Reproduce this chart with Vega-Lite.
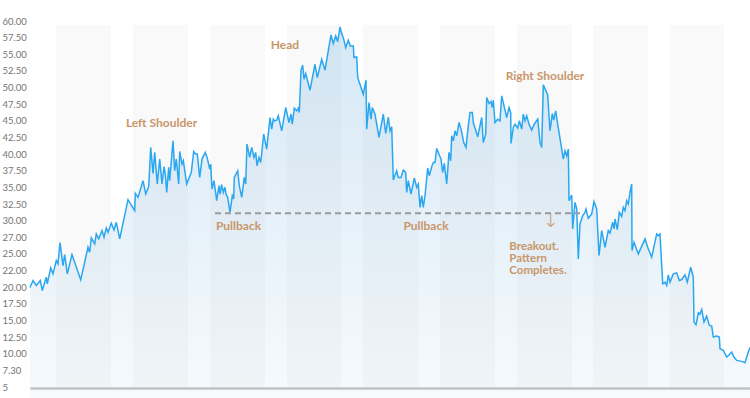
{
  "$schema": "https://vega.github.io/schema/vega-lite/v6.json",
  "width": 720,
  "height": 366,
  "autosize": "none",
  "padding": {"left": 30, "top": 21, "right": 0, "bottom": 11},
  "background": "white",
  "config": {"view": {"stroke": null}, "axisY": {"labelOverlap": false}},
  "datasets": {
    "bands": [
      {"start": 26, "end": 81, "top": 59.4, "bottom": 5}, {"start": 103, "end": 158, "top": 59.4, "bottom": 5},
      {"start": 180, "end": 235, "top": 59.4, "bottom": 5}, {"start": 257, "end": 311, "top": 59.4, "bottom": 5},
      {"start": 333, "end": 388, "top": 59.4, "bottom": 5}, {"start": 410, "end": 465, "top": 59.4, "bottom": 5},
      {"start": 487, "end": 542, "top": 59.4, "bottom": 5}, {"start": 563, "end": 618, "top": 59.4, "bottom": 5},
      {"start": 640, "end": 694, "top": 59.4, "bottom": 5}
    ],
    "price": [
      {"d":0,"v":19.95},{"d":3,"v":21.0},{"d":6.3,"v":20.25},{"d":10.3,"v":21.0},{"d":12.3,"v":19.5},
      {"d":16.3,"v":21.5},{"d":17.3,"v":20.5},{"d":20.7,"v":22.9},{"d":23,"v":22.0},{"d":26.3,"v":24.0},
      {"d":28,"v":23.5},{"d":30,"v":26.7},{"d":33,"v":23.25},{"d":34.7,"v":24.9},{"d":37.3,"v":22.0},
      {"d":42,"v":24.9},{"d":50.7,"v":21.1},{"d":58,"v":26.0},{"d":59.7,"v":25.25},{"d":61.3,"v":27.4},
      {"d":64.7,"v":26.5},{"d":66.3,"v":28.0},{"d":68.7,"v":27.25},{"d":72,"v":28.5},{"d":74,"v":27.5},
      {"d":76.3,"v":28.9},{"d":78,"v":28.25},{"d":81.3,"v":29.6},{"d":84,"v":28.6},{"d":86.3,"v":29.75},
      {"d":89.7,"v":27.25},{"d":98,"v":33.15},{"d":104.7,"v":31.5},{"d":105.3,"v":34.1},{"d":108,"v":33.5},
      {"d":113,"v":36.0},{"d":115.7,"v":34.0},{"d":118.7,"v":35.1},{"d":120.7,"v":41.0},{"d":123,"v":37.1},
      {"d":124.7,"v":40.25},{"d":127.3,"v":35.5},{"d":129.7,"v":39.25},{"d":132,"v":35.5},{"d":134,"v":38.1},
      {"d":135.3,"v":37.0},{"d":136.7,"v":34.25},{"d":138.7,"v":38.0},{"d":139.7,"v":36.0},{"d":143,"v":42.0},
      {"d":144.7,"v":37.5},{"d":146.3,"v":39.25},{"d":148.7,"v":35.5},{"d":149.7,"v":40.4},{"d":152,"v":38.5},
      {"d":153.3,"v":39.0},{"d":156.7,"v":35.5},{"d":161.3,"v":37.25},{"d":163.7,"v":40.4},{"d":165.7,"v":40.0},
      {"d":167.3,"v":40.0},{"d":169.7,"v":36.5},{"d":172,"v":39.25},{"d":175.3,"v":40.25},{"d":177.3,"v":39.4},
      {"d":179.7,"v":37.75},{"d":180.7,"v":38.5},{"d":182,"v":34.75},{"d":184,"v":36.0},{"d":186.7,"v":33.0},
      {"d":189,"v":35.25},{"d":190,"v":34.0},{"d":191.7,"v":35.4},{"d":193.3,"v":34.25},{"d":195,"v":35.0},
      {"d":196,"v":34.0},{"d":197.7,"v":33.5},{"d":200,"v":31.25},{"d":202.3,"v":33.75},{"d":203.7,"v":33.25},
      {"d":204.3,"v":36.5},{"d":207.7,"v":37.5},{"d":209.3,"v":35.25},{"d":211.7,"v":33.5},{"d":214.3,"v":36.5},
      {"d":215.7,"v":35.5},{"d":217,"v":41.5},{"d":219.7,"v":39.5},{"d":221.7,"v":41.0},{"d":224,"v":39.5},
      {"d":225.7,"v":40.25},{"d":227,"v":38.25},{"d":229,"v":39.5},{"d":230.7,"v":38.75},{"d":233.7,"v":43.0},
      {"d":236.7,"v":40.75},{"d":240,"v":45.5},{"d":241.7,"v":43.75},{"d":243.3,"v":45.25},{"d":244.3,"v":45.0},
      {"d":246.7,"v":45.1},{"d":248.3,"v":45.75},{"d":251.7,"v":43.5},{"d":255.7,"v":47.0},{"d":259,"v":44.75},
      {"d":261,"v":46.0},{"d":262.3,"v":44.5},{"d":264.3,"v":46.9},{"d":266.7,"v":46.5},{"d":268.3,"v":46.9},
      {"d":269.3,"v":46.25},{"d":271,"v":52.6},{"d":272.7,"v":53.35},{"d":274,"v":51.25},{"d":275.7,"v":52.1},
      {"d":280,"v":49.6},{"d":285,"v":53.5},{"d":287.3,"v":51.5},{"d":291.7,"v":54.25},{"d":295,"v":52.6},
      {"d":301,"v":57.9},{"d":303.3,"v":56.6},{"d":305.7,"v":57.75},{"d":307.7,"v":56.9},{"d":310,"v":59.1},
      {"d":311.7,"v":58.1},{"d":313.3,"v":57.5},{"d":315.7,"v":56.0},{"d":318.3,"v":57.1},{"d":320.3,"v":56.25},
      {"d":323.3,"v":56.25},{"d":324,"v":54.5},{"d":326.7,"v":54.6},{"d":327.7,"v":51.5},{"d":333.3,"v":49.0},
      {"d":336,"v":51.1},{"d":336.7,"v":43.75},{"d":339,"v":47.75},{"d":341,"v":45.25},{"d":342.3,"v":47.0},
      {"d":345,"v":46.0},{"d":349,"v":42.5},{"d":353.3,"v":46.0},{"d":355.7,"v":43.1},{"d":358.3,"v":45.55},
      {"d":360,"v":43.5},{"d":361.7,"v":44.1},{"d":363.3,"v":36.1},{"d":366.7,"v":37.5},{"d":368.3,"v":36.5},
      {"d":371,"v":36.5},{"d":373.3,"v":37.6},{"d":375.7,"v":37.25},{"d":376.7,"v":34.25},{"d":378.3,"v":36.0},
      {"d":381,"v":34.0},{"d":384.3,"v":36.4},{"d":386.7,"v":35.0},{"d":388.3,"v":35.5},{"d":390,"v":32.0},
      {"d":391.7,"v":33.75},{"d":393.3,"v":32.0},{"d":395,"v":33.75},{"d":397.7,"v":37.9},{"d":399.3,"v":36.75},
      {"d":401.7,"v":38.1},{"d":403.3,"v":38.75},{"d":405,"v":38.75},{"d":406.7,"v":40.85},{"d":411,"v":39.25},
      {"d":412.7,"v":37.25},{"d":414.3,"v":38.6},{"d":416.7,"v":35.5},{"d":419,"v":40.25},{"d":420.7,"v":39.0},
      {"d":421.7,"v":42.75},{"d":423.3,"v":42.0},{"d":425,"v":43.5},{"d":426.7,"v":42.75},{"d":429,"v":44.75},
      {"d":431,"v":43.75},{"d":433.7,"v":41.75},{"d":436,"v":41.0},{"d":438.3,"v":44.25},{"d":440,"v":46.25},
      {"d":442.3,"v":46.25},{"d":443.3,"v":44.75},{"d":447.7,"v":42.6},{"d":451.7,"v":45.5},{"d":453.3,"v":41.75},
      {"d":455.7,"v":43.0},{"d":456.7,"v":48.5},{"d":459,"v":47.6},{"d":461,"v":47.9},{"d":462.3,"v":47.0},
      {"d":463.3,"v":48.1},{"d":465,"v":44.75},{"d":467.7,"v":45.25},{"d":470,"v":45.0},{"d":471.7,"v":48.75},
      {"d":475,"v":46.6},{"d":476.7,"v":45.5},{"d":479,"v":47.0},{"d":480.7,"v":46.25},{"d":481,"v":41.6},
      {"d":483.3,"v":44.0},{"d":485,"v":44.5},{"d":487.7,"v":43.9},{"d":489.3,"v":45.0},{"d":491.7,"v":43.75},
      {"d":493.3,"v":46.0},{"d":495,"v":45.0},{"d":496.7,"v":45.75},{"d":499,"v":44.5},{"d":501.7,"v":43.6},
      {"d":504.3,"v":44.5},{"d":507.7,"v":45.25},{"d":510,"v":41.75},{"d":511.7,"v":41.0},{"d":513.3,"v":50.4},
      {"d":517.7,"v":48.9},{"d":520,"v":43.5},{"d":522.3,"v":46.1},{"d":523.7,"v":45.1},{"d":525.7,"v":46.5},
      {"d":527.7,"v":44.5},{"d":533.3,"v":39.25},{"d":535,"v":40.5},{"d":536.7,"v":39.75},{"d":538.3,"v":40.75},
      {"d":539,"v":33.0},{"d":541.7,"v":33.85},{"d":542.7,"v":28.75},{"d":545,"v":32.75},{"d":546.7,"v":31.85},
      {"d":548.3,"v":24.25},{"d":550,"v":29.5},{"d":552.7,"v":30.75},{"d":555,"v":31.25},{"d":556,"v":31.75},
      {"d":558.3,"v":30.35},{"d":561.7,"v":31.0},{"d":564,"v":32.85},{"d":566.7,"v":31.75},{"d":569,"v":24.75},
      {"d":571.7,"v":28.5},{"d":575,"v":26.0},{"d":578.3,"v":28.5},{"d":580,"v":28.15},{"d":582.7,"v":29.75},
      {"d":584,"v":28.75},{"d":585,"v":30.25},{"d":587.3,"v":28.65},{"d":589.3,"v":31.25},{"d":591.7,"v":30.65},
      {"d":593.3,"v":32.0},{"d":595,"v":31.5},{"d":596.7,"v":33.0},{"d":598.3,"v":32.5},{"d":600,"v":34.25},
      {"d":601.7,"v":35.5},{"d":602,"v":25.5},{"d":604,"v":26.75},{"d":608.3,"v":25.0},{"d":615,"v":27.25},
      {"d":618.3,"v":25.75},{"d":621.7,"v":24.5},{"d":626.7,"v":28.0},{"d":628.3,"v":27.75},{"d":630,"v":28.0},
      {"d":632.7,"v":20.5},{"d":635,"v":20.75},{"d":636.7,"v":20.25},{"d":638.3,"v":21.85},{"d":640,"v":20.75},
      {"d":643.3,"v":22.0},{"d":646.7,"v":22.15},{"d":649.3,"v":21.0},{"d":651.7,"v":21.15},{"d":655,"v":21.85},
      {"d":657.3,"v":20.75},{"d":660.7,"v":23.0},{"d":663.3,"v":21.5},{"d":664,"v":14.75},{"d":666,"v":14.35},
      {"d":668.3,"v":16.15},{"d":670,"v":16.0},{"d":671.7,"v":16.65},{"d":674,"v":14.75},{"d":676.7,"v":15.65},
      {"d":679.3,"v":14.25},{"d":681.7,"v":14.15},{"d":683.3,"v":12.5},{"d":686.7,"v":12.65},{"d":689.3,"v":12.5},
      {"d":690,"v":10.75},{"d":693.3,"v":10.5},{"d":696.7,"v":9.5},{"d":699.3,"v":9.85},{"d":701.7,"v":10.25},
      {"d":704,"v":9.5},{"d":706.7,"v":9.0},{"d":711.7,"v":8.85},{"d":715,"v":8.65},{"d":718.3,"v":10.25},
      {"d":720,"v":10.95}
    ],
    "neckline": [{"start": 185, "end": 550, "v": 31.1}],
    "notes": [
      {"d": 131.5, "v": 44.6, "label": "Left Shoulder"},
      {"d": 255, "v": 56.4, "label": "Head"},
      {"d": 515, "v": 51.8, "label": "Right Shoulder"},
      {"d": 208.5, "v": 29.25, "label": "Pullback"},
      {"d": 396, "v": 29.25, "label": "Pullback"}
    ],
    "breakout": [{"d": 479.3, "v": 27.0, "label": "Breakout.\nPattern\nCompletes."}],
    "arrow": [{"d": 521, "v": 29.9, "label": "↓"}]
  },
  "encoding": {
    "x": {"field": "d", "type": "quantitative", "scale": {"domain": [0, 720], "nice": false, "zero": false},
      "axis": {"title": null, "labels": false, "ticks": false, "grid": false, "domain": true, "domainColor": "#c4c4c4", "domainWidth": 2.5, "offset": 1}},
    "y": {"field": "v", "type": "quantitative", "scale": {"domain": [5, 60], "nice": false, "zero": false},
      "axis": {"title": null, "grid": false, "ticks": false, "domain": false, "labelAlign": "left", "labelPadding": 28, "labelColor": "#747474", "labelFont": "Lato", "labelFontSize": 9.5, "labelOverlap": false, "labelBound": false,
        "values": [5, 7.5, 10, 12.5, 15, 17.5, 20, 22.5, 25, 27.5, 30, 32.5, 35, 37.5, 40, 42.5, 45, 47.5, 50, 52.5, 55, 57.5, 60],
        "labelExpr": "datum.value == 27.5 ? '27.00' : datum.value == 22.5 ? '22.00' : datum.value == 7.5 ? '7.30' : datum.value == 5 ? '5' : format(datum.value, '.2f')"}}
  },
  "layer": [
    {
      "data": {"name": "bands"},
      "mark": {"type": "rect", "fill": "#f9f9f9"},
      "encoding": {
        "x": {"field": "start", "type": "quantitative"},
        "x2": {"field": "end"},
        "y": {"field": "top", "type": "quantitative"},
        "y2": {"field": "bottom"}
      }
    },
    {
      "data": {"name": "price"},
      "mark": {"type": "area", "line": false,
        "fill": {"gradient": "linear", "x1": 1, "y1": 1, "x2": 1, "y2": 0,
          "stops": [{"offset": 0, "color": "rgba(120,180,225,0.05)"}, {"offset": 1, "color": "rgba(120,180,225,0.31)"}]}}
    },
    {
      "data": {"name": "price"},
      "mark": {"type": "line", "color": "#2ba7f0", "strokeWidth": 1.5}
    },
    {
      "data": {"name": "neckline"},
      "mark": {"type": "rule", "color": "#9a9a9a", "strokeWidth": 2, "strokeDash": [6, 4]},
      "encoding": {
        "x": {"field": "start", "type": "quantitative"},
        "x2": {"field": "end"},
        "y": {"field": "v", "type": "quantitative"}
      }
    },
    {
      "data": {"name": "notes"},
      "mark": {"type": "text", "font": "Lato", "fontSize": 12, "fontWeight": "bold", "color": "#c8976b", "align": "center", "baseline": "middle"},
      "encoding": {"text": {"field": "label"}}
    },
    {
      "data": {"name": "breakout"},
      "mark": {"type": "text", "font": "Lato", "fontSize": 11.5, "fontWeight": "bold", "color": "#c8976b", "align": "left", "baseline": "top", "lineBreak": "\n", "lineHeight": 12},
      "encoding": {"text": {"field": "label"}}
    },
    {
      "data": {"name": "arrow"},
      "mark": {"type": "text", "font": "DejaVu Sans", "fontSize": 19, "fontWeight": 200, "color": "#c8976b", "align": "center", "baseline": "middle"},
      "encoding": {"text": {"field": "label"}}
    }
  ]
}
